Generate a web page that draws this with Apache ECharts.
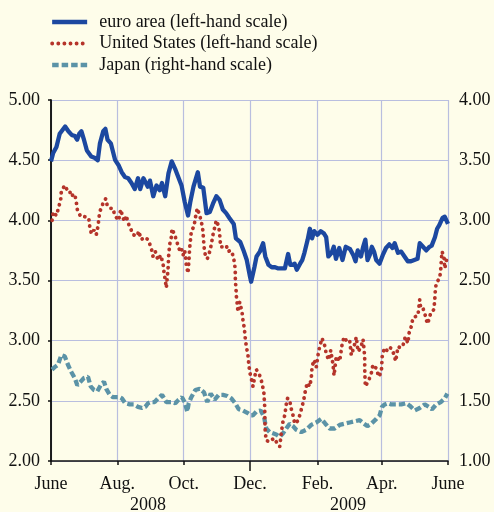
<!DOCTYPE html>
<html>
<head>
<meta charset="utf-8">
<script src="https://cdn.jsdelivr.net/npm/echarts@6/dist/echarts.min.js"></script>
<style>
html,body{margin:0;padding:0;background:#FEFDEA;}
#chart{width:494px;height:512px;}
</style>
</head>
<body>
<div id="chart"></div>
<script>
// Days since 1 June 2008
const monthTickDays = [0, 61, 122, 183, 245, 304, 365];
const monthTickLabels = ['June', 'Aug.', 'Oct.', 'Dec.', 'Feb.', 'Apr.', 'June'];
const yearLabels = ['2008', '2009'];
const leftTicks = [2.0, 2.5, 3.0, 3.5, 4.0, 4.5, 5.0];
const rightTicks = [1.0, 1.5, 2.0, 2.5, 3.0, 3.5, 4.0];

const euroDays = [0,2,5,8,13,16,19,22,24,26,28,30,33,37,40,43,45,48,50,52,55,59,62,65,68,71,74,77,80,82,85,89,91,94,97,100,102,105,108,111,114,117,120,123,126,128,131,135,137,140,143,146,149,152,155,158,161,164,168,170,174,177,180,183,184,187,189,192,195,197,200,203,206,209,212,215,218,220,222,224,226,229,231,233,236,238,240,242,245,248,251,253,255,258,260,262,265,268,271,275,278,280,282,285,287,289,291,293,295,297,299,302,305,308,311,314,316,319,322,325,328,331,334,337,339,342,345,348,350,353,355,357,360,362,363,365];
const euroRates = [4.49,4.56,4.61,4.72,4.78,4.74,4.71,4.70,4.67,4.72,4.74,4.68,4.58,4.53,4.52,4.50,4.64,4.74,4.76,4.67,4.64,4.50,4.46,4.40,4.36,4.35,4.31,4.26,4.35,4.26,4.35,4.28,4.33,4.20,4.29,4.25,4.31,4.20,4.39,4.49,4.43,4.36,4.29,4.15,4.04,4.15,4.28,4.40,4.28,4.27,4.06,4.07,4.14,4.20,4.17,4.09,4.06,4.02,3.97,3.85,3.82,3.75,3.67,3.53,3.49,3.61,3.70,3.74,3.81,3.70,3.63,3.61,3.61,3.60,3.60,3.60,3.72,3.63,3.63,3.64,3.59,3.64,3.67,3.73,3.84,3.93,3.85,3.91,3.88,3.91,3.89,3.86,3.70,3.73,3.78,3.68,3.77,3.67,3.78,3.76,3.71,3.66,3.75,3.70,3.78,3.84,3.67,3.71,3.78,3.74,3.67,3.64,3.71,3.77,3.80,3.77,3.81,3.73,3.74,3.70,3.66,3.66,3.67,3.68,3.81,3.78,3.75,3.78,3.79,3.86,3.93,3.96,4.02,4.03,4.04,3.97];

const usDays = [1,2,5,7.1,8.9,9.5,12.6,15,17.2,18.1,21.8,23.3,24.2,27.3,31,34.7,35.6,37.1,39.5,41.6,43.2,44.1,44.8,47.8,50.3,51.8,54.9,57,58.6,62.2,64.1,66.2,67.8,69.2,70.8,73.3,75.4,79.3,80.6,83,86.1,89.2,92.2,93.8,95.9,98.4,100.9,103,103.9,105.1,106,107.6,108.2,109.1,110.6,111.2,113.7,116.1,118.3,119.8,121.4,122.9,124.4,126,126.9,127.5,129,131.5,132.7,134.5,136.7,138.2,139.7,140.7,141.9,143.7,145.9,147.4,148.9,152,154.2,155.1,156,158.1,161.2,162.7,165.2,167.3,168.9,169.4,169.5,170.1,170.4,171.3,171.9,173.5,175,175.6,176.5,177.4,178.1,178.6,179.6,181.1,181.8,182.7,184.8,185.7,187.3,188.8,191.9,194,195.8,196.5,196.6,197,197.9,201.1,205,207.1,210.3,211.7,213.3,214.9,216.3,217.3,219.5,220.4,222.5,224.1,226.5,228.7,230.8,232.6,233.8,235.6,237.9,239.3,240,241.8,243.9,245.5,247,249.2,251.6,253.1,255.3,257.2,259.3,260.2,262.3,265.4,267.5,269.4,272.4,274.6,276.1,278.6,280.7,282.3,284.7,286.9,288.4,288.5,289,292.1,294.5,296,299.1,301.3,303.7,304.6,306.8,309.8,312.3,314.4,316.9,319,321.5,323.6,325.7,328.2,329.1,331.3,332.8,337.4,339,339.9,342,344.1,346,347.3,349.1,352.1,352.8,353.3,354.2,357.4,358.3,358.9,359.5,361.3,362,363.4,364.4];
const usRates = [4.00,4.07,4.04,4.11,4.17,4.24,4.29,4.25,4.25,4.20,4.22,4.15,4.09,4.03,4.03,4.02,3.95,3.89,3.92,3.88,3.95,4.02,4.07,4.14,4.18,4.12,4.10,4.10,4.04,4.00,4.09,4.02,3.99,4.04,3.98,3.93,3.88,3.87,3.91,3.84,3.86,3.84,3.77,3.70,3.74,3.67,3.71,3.64,3.57,3.50,3.44,3.59,3.71,3.80,3.86,3.93,3.88,3.81,3.75,3.77,3.71,3.75,3.63,3.56,3.68,3.77,3.91,3.95,4.02,4.10,4.04,3.99,3.91,3.78,3.71,3.68,3.74,3.80,3.88,4.00,3.95,3.88,3.78,3.78,3.79,3.74,3.75,3.71,3.64,3.57,3.50,3.43,3.37,3.30,3.24,3.32,3.31,3.24,3.17,3.12,3.07,3.02,2.95,2.88,2.81,2.74,2.66,2.62,2.70,2.76,2.71,2.65,2.56,2.45,2.35,2.24,2.17,2.16,2.19,2.16,2.12,2.23,2.33,2.38,2.47,2.52,2.51,2.45,2.38,2.31,2.33,2.38,2.45,2.52,2.58,2.65,2.62,2.69,2.78,2.84,2.78,2.88,2.95,3.02,2.96,2.89,2.84,2.92,2.80,2.71,2.87,2.83,2.96,3.03,2.99,3.00,2.88,2.95,3.03,2.91,2.94,3.01,2.87,2.74,2.62,2.67,2.73,2.80,2.77,2.70,2.74,2.88,2.94,2.91,2.94,2.91,2.83,2.95,2.94,2.96,3.03,2.98,3.06,3.12,3.19,3.21,3.34,3.27,3.27,3.21,3.14,3.17,3.23,3.26,3.34,3.41,3.48,3.52,3.59,3.67,3.74,3.70,3.60,3.66,3.71];

const japanDays = [0.9,3.4,6.4,9.5,12.6,15.6,18.7,21.8,24.2,27.3,30.3,34,36.5,39.5,42.6,45.7,48.7,50.8,54,57,60,63.2,65.3,68.3,72.4,76.3,80,83.7,86.7,89.2,91.7,95.3,98.4,102.1,106,110.6,114.3,117.4,120.4,122.9,125.3,126.6,129,132.7,136.7,140.7,143.7,146.8,150.5,154.2,158.1,162.1,165.8,169.4,172.6,176.5,180.5,183.6,185.7,188.8,192.8,195.8,197.9,201.1,204.1,207.1,210.3,213.3,216.3,219.5,222.5,225.5,230.1,234.7,239.3,243.9,248.5,252.2,256.2,260.8,265.4,270,274.6,279.2,283.8,287.8,290.8,294.5,299.1,302.2,304.3,306.8,309.8,312.9,317.5,322.1,326.7,329.8,334.4,339,343.6,347.3,350.3,354.2,358.3,362,364.4];
const japanRates = [1.76,1.78,1.80,1.88,1.87,1.80,1.74,1.69,1.63,1.66,1.69,1.70,1.62,1.59,1.58,1.63,1.66,1.60,1.55,1.53,1.53,1.53,1.52,1.48,1.47,1.47,1.45,1.44,1.45,1.48,1.49,1.49,1.52,1.55,1.49,1.49,1.48,1.51,1.53,1.49,1.41,1.48,1.53,1.59,1.60,1.57,1.49,1.56,1.51,1.55,1.55,1.54,1.52,1.48,1.43,1.42,1.40,1.38,1.38,1.41,1.42,1.37,1.27,1.24,1.23,1.22,1.20,1.23,1.27,1.31,1.29,1.26,1.24,1.26,1.30,1.32,1.35,1.31,1.27,1.27,1.30,1.31,1.32,1.33,1.34,1.31,1.29,1.31,1.35,1.38,1.45,1.47,1.48,1.47,1.47,1.47,1.48,1.46,1.42,1.44,1.47,1.45,1.43,1.47,1.49,1.52,1.56];

const seriesNames = ['euro area (left-hand scale)', 'United States (left-hand scale)', 'Japan (right-hand scale)'];

const zip = (a, b) => a.map((d, i) => [d, b[i]]);
const FONT = '"Liberation Serif", "Times New Roman", serif';
const INK = '#111111';
const GRID = '#B9BEDF';
const EURO = '#1C48A0', US = '#B5342A', JP = '#5B93A7';
const euroLine = {color: EURO, width: 4.3, join: 'round'};
const usLine = {color: US, width: 3.8, type: [0.1, 6], cap: 'round'};
const jpLine = {color: JP, width: 4.3, type: [6.5, 3]};

const chart = echarts.init(document.getElementById('chart'), null, {renderer: 'canvas'});
chart.setOption({
  backgroundColor: '#FEFDEA',
  animation: false,
  textStyle: {fontFamily: FONT},
  grid: {left: 51, right: 46, top: 100, bottom: 51, containLabel: false},
  legend: {
    orient: 'vertical', left: 50, top: 13, padding: 0,
    itemWidth: 35, itemHeight: 14, itemGap: 3.5,
    itemStyle: {opacity: 0, borderWidth: 0},
    textStyle: {fontFamily: FONT, fontSize: 18, color: INK, padding: [0, 0, 0, 7]},
    data: [
      {name: seriesNames[0], lineStyle: euroLine},
      {name: seriesNames[1], lineStyle: usLine},
      {name: seriesNames[2], lineStyle: jpLine}
    ]
  },
  xAxis: [{
    type: 'value', min: 0, max: 365,
    axisLine: {show: true, lineStyle: {color: INK, width: 1.5}},
    axisTick: {show: true, length: 4, customValues: monthTickDays, lineStyle: {color: INK, width: 1.5}},
    axisLabel: {
      customValues: monthTickDays, margin: 14, fontFamily: FONT, fontSize: 18, color: INK,
      formatter: v => monthTickLabels[monthTickDays.indexOf(Math.round(v))] || ''
    },
    splitLine: {show: true, lineStyle: {color: GRID, width: 1.2}}
  }, {
    type: 'value', min: 0, max: 365, position: 'bottom', offset: 0,
    axisLine: {show: false},
    axisTick: {show: true, length: 10, customValues: [monthTickDays[3]], lineStyle: {color: INK, width: 1.5}},
    axisLabel: {show: false},
    splitLine: {show: false}
  }],
  yAxis: [{
    type: 'value', min: leftTicks[0], max: leftTicks[leftTicks.length - 1], interval: 0.5,
    position: 'left',
    axisLine: {show: true, lineStyle: {color: INK, width: 1.5}},
    axisTick: {show: false},
    axisLabel: {margin: 11, fontFamily: FONT, fontSize: 18, color: INK, formatter: v => v.toFixed(2)},
    splitLine: {show: true, lineStyle: {color: GRID, width: 1.2}}
  }, {
    type: 'value', min: rightTicks[0], max: rightTicks[rightTicks.length - 1], interval: 0.5,
    position: 'right',
    axisLine: {show: true, lineStyle: {color: INK, width: 1.5}},
    axisTick: {show: true, inside: true, length: 3, lineStyle: {color: INK, width: 1.5}},
    axisLabel: {margin: 11, fontFamily: FONT, fontSize: 18, color: INK, formatter: v => v.toFixed(2)},
    splitLine: {show: false}
  }],
  graphic: [
    {type: 'text', left: 130, top: 496, style: {text: yearLabels[0], font: '18px ' + FONT, fill: INK}},
    {type: 'text', left: 330, top: 496, style: {text: yearLabels[1], font: '18px ' + FONT, fill: INK}}
  ],
  series: [
    {
      name: seriesNames[0], type: 'line', xAxisIndex: 0, yAxisIndex: 0,
      data: zip(euroDays, euroRates), showSymbol: false, symbol: 'none',
      lineStyle: euroLine, itemStyle: {color: EURO}, z: 4
    },
    {
      name: seriesNames[1], type: 'line', xAxisIndex: 0, yAxisIndex: 0,
      data: zip(usDays, usRates), showSymbol: false, symbol: 'none',
      lineStyle: usLine, itemStyle: {color: US}, z: 3
    },
    {
      name: seriesNames[2], type: 'line', xAxisIndex: 0, yAxisIndex: 1,
      data: zip(japanDays, japanRates), showSymbol: false, symbol: 'none',
      lineStyle: jpLine, itemStyle: {color: JP}, z: 2
    }
  ]
});
</script>
</body>
</html>
